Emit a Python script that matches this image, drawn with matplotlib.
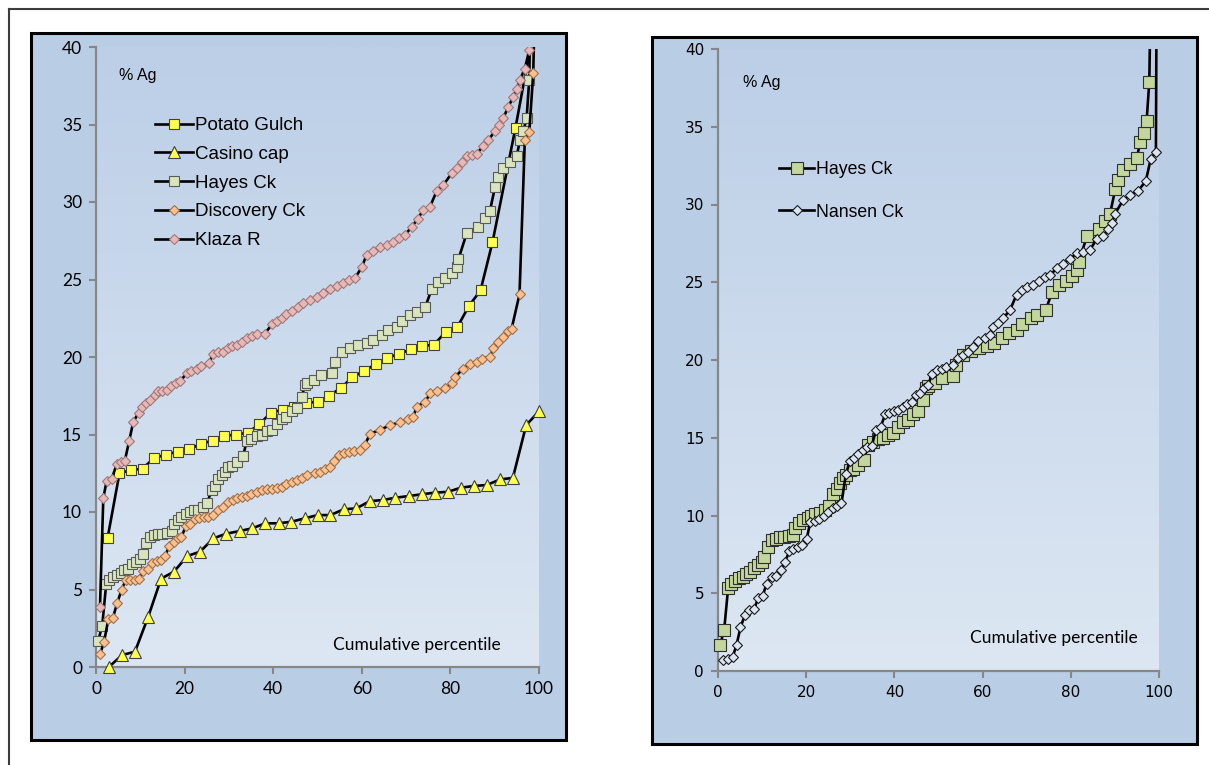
import matplotlib
matplotlib.use("Agg")
import matplotlib.pyplot as plt
import numpy as np
from matplotlib.patches import Rectangle
from matplotlib.lines import Line2D
from matplotlib.colors import LinearSegmentedColormap

# ---- data (cumulative percentile, % Ag) ----
pg_x = [2.6, 5.3, 7.9, 10.5, 13.2, 15.8, 18.4, 21.1, 23.7, 26.3,
        28.9, 31.6, 34.2, 36.8, 39.5, 42.1, 44.7, 47.4, 50.0, 52.6,
        55.3, 57.9, 60.5, 63.2, 65.8, 68.4, 71.1, 73.7, 76.3, 78.9,
        81.6, 84.2, 86.8, 89.5, 94.7, 100.0]
pg_y = [8.3, 12.5, 12.7, 12.8, 13.5, 13.7, 13.9, 14.05, 14.4, 14.6,
        14.9, 15.0, 15.1, 15.65, 16.4, 16.6, 16.8, 17.05, 17.1, 17.5,
        18.0, 18.7, 19.1, 19.55, 19.95, 20.2, 20.5, 20.7, 20.8, 21.6,
        21.95, 23.3, 24.3, 27.4, 34.8, 43.0]

cc_x = [2.9, 5.9, 8.8, 11.8, 14.7, 17.6, 20.6, 23.5, 26.5, 29.4,
        32.4, 35.3, 38.2, 41.2, 44.1, 47.1, 50.0, 52.9, 55.9, 58.8,
        61.8, 64.7, 67.6, 70.6, 73.5, 76.5, 79.4, 82.4, 85.3, 88.2,
        91.2, 94.1, 97.1, 100.0]
cc_y = [0.0, 0.77, 0.99, 3.25, 5.7, 6.15, 7.16, 7.44, 8.3, 8.6,
        8.77, 8.95, 9.27, 9.27, 9.37, 9.59, 9.8, 9.8, 10.17, 10.24,
        10.7, 10.77, 10.92, 11.03, 11.14, 11.25, 11.3, 11.57, 11.68, 11.74,
        12.1, 12.2, 15.6, 16.5]

hc_x = [0.5, 1.4, 2.3, 3.0, 3.8, 4.7, 5.6, 6.4, 7.3, 8.2,
        9.0, 9.9, 10.5, 11.3, 12.2, 13.1, 14.1, 15.0, 16.1, 17.1,
        17.5, 18.4, 19.3, 20.3, 21.2, 22.1, 23.1, 24.2, 25.1, 26.1,
        26.9, 27.6, 28.4, 29.1, 29.9, 30.6, 31.8, 33.2, 34.0, 35.1,
        36.3, 37.4, 38.5, 39.7, 40.8, 41.9, 43.0, 44.2, 45.3, 46.4,
        47.2, 47.6, 49.1, 50.9, 53.2, 53.9, 55.5, 57.3, 59.2, 61.1,
        62.6, 64.5, 66.0, 67.9, 69.0, 70.9, 72.4, 74.3, 75.8, 77.3,
        78.8, 80.3, 81.4, 81.8, 83.7, 86.3, 87.8, 88.9, 90.1, 90.8,
        91.9, 93.5, 95.0, 95.7, 96.5, 97.2, 97.8, 99.0]
hc_y = [1.7, 2.65, 5.35, 5.6, 5.8, 5.95, 6.05, 6.25, 6.35, 6.65,
        6.8, 7.0, 7.3, 8.0, 8.4, 8.5, 8.6, 8.6, 8.65, 8.75,
        9.2, 9.5, 9.7, 9.85, 10.0, 10.1, 10.15, 10.35, 10.6, 11.4,
        11.7, 12.1, 12.4, 12.6, 12.9, 13.0, 13.25, 13.6, 14.55, 14.7,
        14.9, 15.0, 15.2, 15.3, 15.7, 16.0, 16.15, 16.5, 16.7, 17.4,
        18.2, 18.3, 18.5, 18.85, 18.95, 19.7, 20.35, 20.55, 20.8, 20.9,
        21.1, 21.4, 21.75, 21.95, 22.3, 22.7, 22.9, 23.2, 24.4, 24.85,
        25.1, 25.4, 25.8, 26.3, 28.0, 28.4, 28.95, 29.4, 31.0, 31.6,
        32.2, 32.6, 33.0, 34.0, 34.6, 35.4, 37.9, 60.0]

dc_x = [0.9, 1.8, 2.8, 3.8, 4.8, 5.8, 6.7, 7.7, 8.7, 9.7,
        10.7, 11.7, 12.7, 13.7, 14.7, 15.6, 16.5, 17.5, 18.4, 19.3,
        20.3, 21.2, 22.3, 23.3, 24.4, 25.3, 26.5, 27.5, 28.6, 29.7,
        30.9, 31.8, 32.9, 34.0, 35.1, 36.3, 37.4, 38.5, 39.7, 40.8,
        41.9, 43.0, 44.2, 45.3, 46.4, 47.6, 49.5, 50.6, 51.7, 52.8,
        53.8, 54.9, 56.0, 57.0, 58.3, 59.6, 60.7, 61.9, 64.1, 66.4,
        68.6, 70.5, 71.6, 72.4, 74.3, 75.4, 76.9, 78.8, 80.3, 81.0,
        82.9, 84.4, 85.9, 87.1, 88.9, 89.7, 90.8, 91.9, 93.1, 93.8,
        95.6, 96.8, 97.8, 98.7, 100.0]
dc_y = [0.82, 1.6, 3.1, 3.15, 4.15, 5.0, 5.6, 5.6, 5.6, 5.65,
        6.2, 6.3, 6.7, 6.85, 6.9, 7.15, 7.8, 8.05, 8.35, 8.4,
        9.1, 9.25, 9.55, 9.6, 9.65, 9.7, 9.8, 10.1, 10.35, 10.65,
        10.75, 10.9, 11.0, 11.05, 11.15, 11.3, 11.45, 11.5, 11.5, 11.55,
        11.6, 11.8, 11.95, 12.05, 12.2, 12.4, 12.5, 12.6, 12.75, 12.9,
        13.3, 13.7, 13.8, 13.9, 13.95, 14.0, 14.35, 15.05, 15.3, 15.6,
        15.8, 16.0, 16.15, 16.8, 17.1, 17.65, 17.8, 18.0, 18.3, 18.7,
        19.25, 19.55, 19.7, 19.9, 20.0, 20.6, 21.0, 21.3, 21.7, 21.8,
        24.05, 34.0, 34.5, 38.3, 55.0]

kr_x = [0.9, 1.65, 2.4, 3.5, 4.7, 5.6, 6.5, 7.5, 8.4, 9.6,
        10.3, 11.3, 12.2, 13.3, 14.1, 15.0, 16.0, 16.9, 18.1, 19.0,
        20.5, 21.5, 22.7, 23.8, 25.4, 26.5, 27.6, 28.7, 29.8, 30.8,
        31.8, 32.9, 34.0, 35.2, 36.3, 38.1, 39.7, 40.8, 41.9, 43.0,
        44.2, 45.5, 46.8, 48.3, 49.8, 51.3, 52.8, 54.3, 55.8, 57.2,
        58.5, 60.0, 61.1, 62.6, 64.1, 65.6, 67.1, 68.5, 69.8, 71.3,
        72.6, 73.9, 75.4, 76.9, 78.4, 80.3, 81.4, 82.6, 83.7, 84.8,
        85.9, 87.4, 88.6, 90.1, 91.0, 91.9, 93.1, 94.2, 95.0, 95.7,
        96.8, 97.8, 100.0]
kr_y = [3.9, 10.9, 12.0, 12.1, 13.1, 13.25, 13.3, 14.6, 15.8, 16.4,
        16.8, 17.05, 17.2, 17.55, 17.8, 17.8, 17.9, 18.1, 18.3, 18.45,
        18.95, 19.1, 19.2, 19.4, 19.6, 20.2, 20.3, 20.35, 20.6, 20.7,
        20.8, 21.0, 21.2, 21.35, 21.5, 21.5, 22.1, 22.3, 22.5, 22.75,
        23.0, 23.25, 23.5, 23.7, 23.9, 24.15, 24.4, 24.6, 24.8, 24.95,
        25.1, 25.8, 26.6, 26.85, 27.1, 27.25, 27.4, 27.65, 27.9, 28.4,
        28.9, 29.5, 29.7, 30.7, 31.1, 31.85, 32.2, 32.6, 33.0, 33.05,
        33.1, 33.6, 34.0, 34.6, 35.0, 35.4, 36.15, 36.8, 37.3, 37.9,
        38.6, 39.8, 48.0]

nc_x = [1.2, 2.3, 3.3, 4.2, 5.1, 6.1, 7.1, 8.2, 9.1, 10.1,
        11.0, 12.2, 13.2, 14.2, 15.2, 16.2, 17.1, 18.1, 19.0, 20.1,
        20.9, 22.0, 23.0, 24.0, 25.0, 26.0, 26.9, 28.0, 29.0, 29.9,
        30.8, 31.8, 32.8, 33.7, 34.9, 35.8, 36.9, 37.9, 38.8, 39.9,
        40.9, 41.9, 42.9, 43.9, 44.9, 45.8, 46.7, 47.7, 48.5, 49.6,
        50.7, 51.8, 53.4, 54.5, 55.6, 56.7, 57.9, 59.0, 60.5, 61.7,
        62.4, 63.6, 64.7, 66.2, 67.7, 68.9, 70.0, 71.5, 72.7, 74.2,
        75.3, 76.8, 78.3, 79.8, 81.3, 82.8, 84.4, 85.9, 87.4, 88.5,
        89.3, 90.0, 91.9, 93.4, 95.3, 97.0, 98.1, 99.3, 100.0]
nc_y = [0.7, 0.8, 0.88, 1.67, 2.8, 3.6, 3.9, 3.97, 4.7, 4.8,
        5.6, 6.06, 6.1, 6.5, 7.03, 7.7, 7.83, 8.0, 8.1, 8.47,
        9.55, 9.65, 9.75, 9.97, 10.2, 10.5, 10.6, 10.8, 12.65, 13.5,
        13.7, 13.95, 14.2, 14.4, 14.5, 15.5, 15.7, 16.5, 16.6, 16.75,
        16.8, 17.0, 17.2, 17.3, 17.75, 17.9, 18.2, 18.4, 19.1, 19.35,
        19.45, 19.55, 19.7, 20.1, 20.3, 20.5, 20.85, 21.2, 21.4, 21.6,
        22.1, 22.35, 22.7, 23.2, 24.2, 24.5, 24.7, 24.8, 25.1, 25.35,
        25.45, 25.9, 26.2, 26.5, 26.85, 26.95, 27.1, 27.8, 28.0, 28.4,
        28.8, 29.4, 30.3, 30.6, 30.9, 31.5, 32.9, 33.4, 80.0]

x_ticks = [0, 20, 40, 60, 80, 100]
y_ticks = [0, 5, 10, 15, 20, 25, 30, 35, 40]

W, H = 1209, 765
fig = plt.figure(figsize=(W / 100, H / 100), dpi=100)
fig.patch.set_facecolor("white")


def fx(px):
    return px / W


def fy(py):
    return 1 - py / H


# outer frame (top and left edges visible)
fig.add_artist(Line2D([fx(9), fx(9)], [fy(9), 0], color="#3c3c3c", lw=1.5))
fig.add_artist(Line2D([fx(9), 1], [fy(9), fy(9)], color="#3c3c3c", lw=1.5))

grad_cmap = LinearSegmentedColormap.from_list("bg", ["#bccfe7", "#dde7f3"])


def panel(x0, y0, x1, y1):
    fig.add_artist(Rectangle((fx(x0), fy(y1)), (x1 - x0) / W, (y1 - y0) / H,
                             transform=fig.transFigure, facecolor="#b9cde5",
                             edgecolor="black", lw=2.2, zorder=-1))


def make_axes(x0, y0, x1, y1, tick_font, tick_size):
    ax = fig.add_axes([fx(x0), fy(y1), (x1 - x0) / W, (y1 - y0) / H])
    ax.set_facecolor("none")
    grad = np.linspace(0, 1, 256).reshape(-1, 1)
    ax.imshow(grad, cmap=grad_cmap, extent=[0, 100, 0, 40], aspect="auto", zorder=0)
    ax.set_xlim(0, 100)
    ax.set_ylim(0, 40)
    ax.set_xticks(x_ticks)
    ax.set_yticks(y_ticks)
    for s in ["top", "right"]:
        ax.spines[s].set_visible(False)
    for s in ["left", "bottom"]:
        ax.spines[s].set_color("#878787")
        ax.spines[s].set_linewidth(1.6)
    ax.tick_params(direction="out", length=5, width=1.5, color="#878787",
                   labelcolor="black", pad=5)
    for lab in ax.get_xticklabels() + ax.get_yticklabels():
        lab.set_fontfamily(tick_font)
        lab.set_fontsize(tick_size)
    return ax


def series(ax, x, y, marker, ms, fc, ec, label):
    ln, = ax.plot(x, y, color="black", lw=1.9, marker=marker, ms=ms,
                  mfc=fc, mec=ec, mew=0.8, label=label, zorder=3)
    ln.set_clip_path(Rectangle((-5, -3), 110, 43, transform=ax.transData))
    return ln


# ---- left chart ----
panel(31, 33, 566, 740)
ax1 = make_axes(96, 47, 539, 667, "Lato", 12.5)
h1 = [
    series(ax1, pg_x, pg_y, "s", 7.5, "#ffff4d", "#404040", "Potato Gulch"),
    series(ax1, cc_x, cc_y, "^", 8, "#ffff4d", "#404040", "Casino cap"),
    series(ax1, hc_x, hc_y, "s", 7.8, "#d7e4bd", "#5a5a5a", "Hayes Ck"),
    series(ax1, dc_x, dc_y, "D", 5.0, "#fac090", "#a0704a", "Discovery Ck"),
    series(ax1, kr_x, kr_y, "D", 5.0, "#e6b9b8", "#a07878", "Klaza R"),
]
ax1.legend(handles=h1, loc="upper left", bbox_to_anchor=(fx(155), fy(117)),
           bbox_transform=fig.transFigure, frameon=False, borderpad=0,
           borderaxespad=0, handlelength=2.0, handletextpad=0.15,
           labelspacing=0.62, prop={"family": "Liberation Sans", "size": 13.5})
fig.text(fx(119), fy(80), "% Ag", family="Liberation Sans", fontsize=11.5, va="baseline")
fig.text(fx(333), fy(650), "Cumulative percentile", family="Lato", fontsize=12.5, va="baseline")

# ---- right chart ----
panel(652, 37, 1197, 744)
ax2 = make_axes(718, 49, 1159, 671, "DejaVu Sans", 11)
h2 = [
    series(ax2, hc_x, hc_y, "s", 8.0, "#c3d69b", "#303030", "Hayes Ck"),
    series(ax2, nc_x, nc_y, "D", 5.5, "#dbe5f1", "#1a1a1a", "Nansen Ck"),
]
ax2.legend(handles=h2, loc="upper left", bbox_to_anchor=(fx(779), fy(161)),
           bbox_transform=fig.transFigure, frameon=False, borderpad=0,
           borderaxespad=0, handlelength=2.0, handletextpad=0.1,
           labelspacing=1.45, prop={"family": "Liberation Sans", "size": 12.7})
fig.text(fx(743), fy(87), "% Ag", family="Liberation Sans", fontsize=11.5, va="baseline")
fig.text(fx(970), fy(643), "Cumulative percentile", family="Lato", fontsize=12.5, va="baseline")

fig.savefig("out.png", dpi=100)
